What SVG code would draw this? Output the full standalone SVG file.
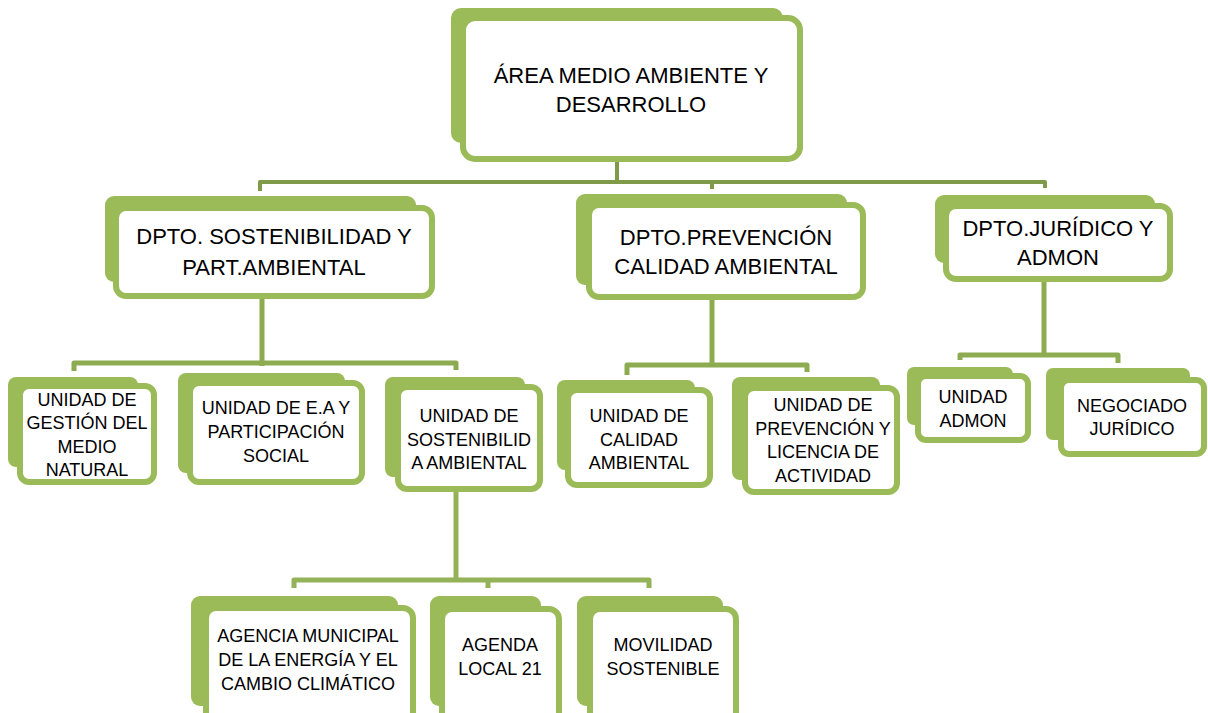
<svg xmlns="http://www.w3.org/2000/svg" width="1208" height="713" viewBox="0 0 1208 713">
<style>
.bk{fill:#9bbb59}
.fr{fill:#fff;stroke:#9bbb59;stroke-width:6}
.t{font-family:"Liberation Sans",Arial,sans-serif;fill:#000;text-anchor:middle}
.l{font-size:22px}
.s{font-size:18px}
.c0{fill:none;stroke:#7f9a48;stroke-width:4;stroke-linejoin:round}
.c1{fill:none;stroke:#8dab50;stroke-width:5;stroke-linejoin:round}
.c2{fill:none;stroke:#94b258;stroke-width:5;stroke-linejoin:round}
</style>
<rect width="1208" height="713" fill="#fff"/>
<g id="connectors">
<path class="c0" d="M617,162 V182"/>
<path class="c0" d="M260,191 V182 H1045 V188"/>
<path class="c0" d="M712,182 V189"/>
<path class="c1" d="M262,299 V366"/>
<path class="c1" d="M74,371 V363 H456 V370"/>
<path class="c1" d="M712,300 V367"/>
<path class="c1" d="M627,375 V365 H807 V372"/>
<path class="c1" d="M1044,282 V357"/>
<path class="c1" d="M960,360 V355 H1118 V363"/>
<path class="c2" d="M456,492 V582"/>
<path class="c2" d="M294,588 V580 H649 V588"/>
<path class="c2" d="M488,580 V588"/>
</g>
<g id="n-area">
<rect class="bk" x="451" y="8" width="332" height="135" rx="10"/>
<rect class="fr" x="463" y="18" width="337" height="141" rx="12"/>
<text class="t l" x="631" y="83">ÁREA MEDIO AMBIENTE Y</text>
<text class="t l" x="631" y="112">DESARROLLO</text>
</g>
<g id="n-dpto-sost">
<rect class="bk" x="105" y="196" width="311" height="86" rx="9"/>
<rect class="fr" x="116" y="208" width="316" height="88" rx="10"/>
<text class="t l" x="274" y="244">DPTO. SOSTENIBILIDAD Y</text>
<text class="t l" x="274" y="275">PART.AMBIENTAL</text>
</g>
<g id="n-dpto-prev">
<rect class="bk" x="576" y="194" width="271" height="91" rx="9"/>
<rect class="fr" x="589" y="205" width="274" height="92" rx="10"/>
<text class="t l" x="726" y="245">DPTO.PREVENCIÓN</text>
<text class="t l" x="726" y="274">CALIDAD AMBIENTAL</text>
</g>
<g id="n-dpto-jur">
<rect class="bk" x="935" y="195" width="220" height="68" rx="9"/>
<rect class="fr" x="946" y="206" width="224" height="73" rx="10"/>
<text class="t l" x="1058" y="236">DPTO.JURÍDICO Y</text>
<text class="t l" x="1058" y="265">ADMON</text>
</g>
<g id="n-u-gestion">
<rect class="bk" x="8" y="377" width="130" height="90" rx="8"/>
<rect class="fr" x="20" y="386" width="134" height="96" rx="9"/>
<text class="t s" x="87" y="406">UNIDAD DE</text>
<text class="t s" x="87" y="429">GESTIÓN DEL</text>
<text class="t s" x="87" y="453">MEDIO</text>
<text class="t s" x="87" y="476">NATURAL</text>
</g>
<g id="n-u-ea">
<rect class="bk" x="178" y="373" width="167" height="100" rx="8"/>
<rect class="fr" x="190" y="383" width="172" height="99" rx="9"/>
<text class="t s" x="276" y="414">UNIDAD DE E.A Y</text>
<text class="t s" x="276" y="438">PARTICIPACIÓN</text>
<text class="t s" x="276" y="462">SOCIAL</text>
</g>
<g id="n-u-sost">
<rect class="bk" x="385" y="377" width="140" height="100" rx="8"/>
<rect class="fr" x="398" y="387" width="142" height="102" rx="9"/>
<text class="t s" x="469" y="422">UNIDAD DE</text>
<text class="t s" x="469" y="446">SOSTENIBILID</text>
<text class="t s" x="469" y="469">A AMBIENTAL</text>
</g>
<g id="n-u-calidad">
<rect class="bk" x="557" y="380" width="138" height="90" rx="8"/>
<rect class="fr" x="568" y="390" width="142" height="95" rx="9"/>
<text class="t s" x="639" y="422">UNIDAD DE</text>
<text class="t s" x="639" y="446">CALIDAD</text>
<text class="t s" x="639" y="469">AMBIENTAL</text>
</g>
<g id="n-u-prev">
<rect class="bk" x="732" y="377" width="148" height="103" rx="8"/>
<rect class="fr" x="745" y="388" width="152" height="104" rx="9"/>
<text class="t s" x="823" y="411">UNIDAD DE</text>
<text class="t s" x="823" y="435">PREVENCIÓN Y</text>
<text class="t s" x="823" y="458">LICENCIA DE</text>
<text class="t s" x="823" y="482">ACTIVIDAD</text>
</g>
<g id="n-u-admon">
<rect class="bk" x="907" y="367" width="106" height="58" rx="7"/>
<rect class="fr" x="918" y="376" width="110" height="64" rx="8"/>
<text class="t s" x="973" y="403">UNIDAD</text>
<text class="t s" x="973" y="427">ADMON</text>
</g>
<g id="n-negociado">
<rect class="bk" x="1046" y="368" width="144" height="72" rx="7"/>
<rect class="fr" x="1061" y="380" width="143" height="74" rx="8"/>
<text class="t s" x="1132" y="412">NEGOCIADO</text>
<text class="t s" x="1132" y="435">JURÍDICO</text>
</g>
<g id="n-agencia">
<rect class="bk" x="191" y="596" width="207" height="110" rx="9"/>
<rect class="fr" x="206" y="608" width="207" height="115" rx="10"/>
<text class="t s" x="308" y="642">AGENCIA MUNICIPAL</text>
<text class="t s" x="308" y="666">DE LA ENERGÍA Y EL</text>
<text class="t s" x="308" y="690">CAMBIO CLIMÁTICO</text>
</g>
<g id="n-agenda">
<rect class="bk" x="430" y="596" width="111" height="110" rx="9"/>
<rect class="fr" x="442" y="609" width="117" height="115" rx="10"/>
<text class="t s" x="500" y="651">AGENDA</text>
<text class="t s" x="500" y="675">LOCAL 21</text>
</g>
<g id="n-movilidad">
<rect class="bk" x="577" y="596" width="146" height="110" rx="9"/>
<rect class="fr" x="590" y="609" width="146" height="115" rx="10"/>
<text class="t s" x="663" y="651">MOVILIDAD</text>
<text class="t s" x="663" y="675">SOSTENIBLE</text>
</g>
</svg>
